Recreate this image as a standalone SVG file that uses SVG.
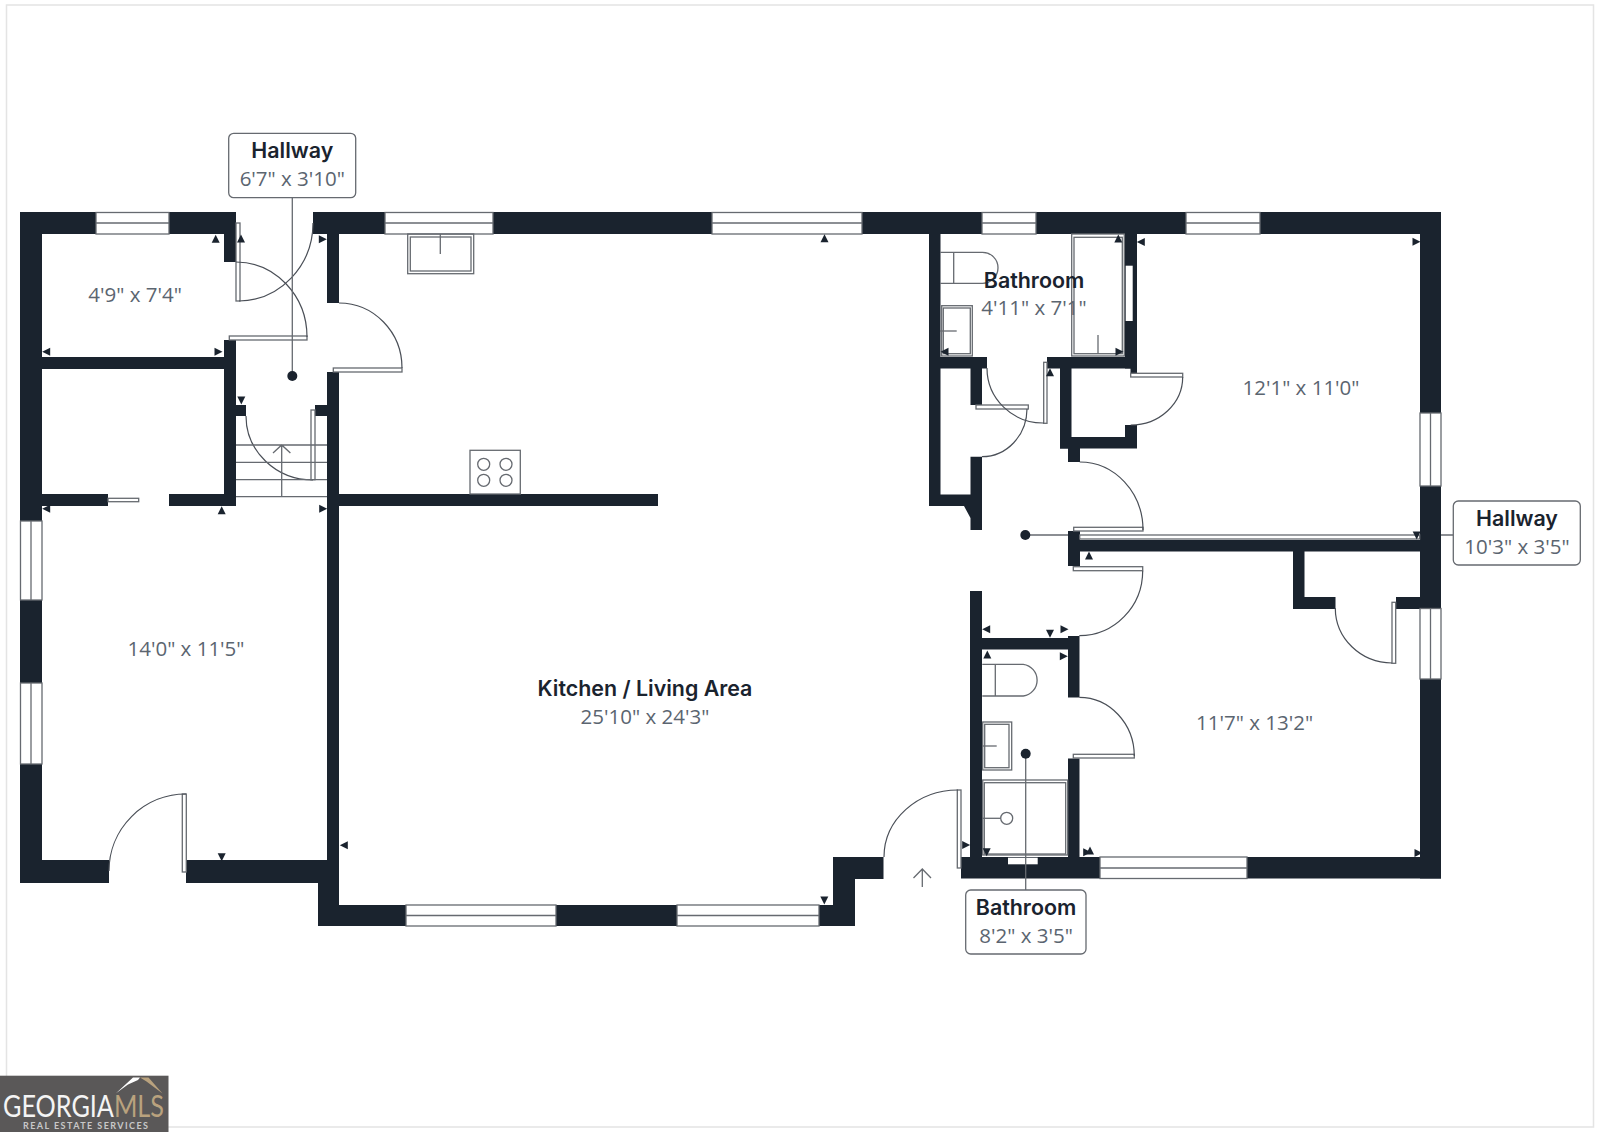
<svg xmlns="http://www.w3.org/2000/svg" width="1600" height="1132" viewBox="0 0 1600 1132">
<style>
.w{fill:#1a232e}
.l{fill:none;stroke:#666a70;stroke-width:1.3}
.f{fill:#fff;stroke:#666a70;stroke-width:1.3}
.a{fill:none;stroke:#4a4f57;stroke-width:1.2}
.c{fill:#fff;stroke:#666a70;stroke-width:1.3}
.t{font-family:"Inter","Liberation Sans",sans-serif;font-weight:600;font-size:21.4px;fill:#1a232e;text-anchor:middle}
.d{font-family:"Open Sans","Liberation Sans",sans-serif;font-size:20.5px;fill:#5b6570;text-anchor:middle}
.m{fill:#1a232e}
.dot{fill:#1a232e}
</style>
<defs>
<path id="mu" class="m" d="M0-4.500L4 3.500H-4Z"/>
<path id="md" class="m" d="M0 4.500L4-3.500H-4Z"/>
<path id="ml" class="m" d="M-4.500 0L3.500-4V4Z"/>
<path id="mr" class="m" d="M4.500 0L-3.500-4V4Z"/>
</defs>
<rect width="1600" height="1132" fill="#fff"/>
<g id="page-frame" fill="none" stroke="#e4e4e4" stroke-width="1.500">
<path d="M6.500 1076V5H1593.500V1127H168"/>
</g>
<g id="walls" class="w">
<rect x="20" y="212" width="76" height="22"/><rect x="169" y="212" width="67" height="22"/>
<rect x="313" y="212" width="72" height="22"/><rect x="493" y="212" width="219" height="22"/>
<rect x="862" y="212" width="120" height="22"/><rect x="1036" y="212" width="150" height="22"/>
<rect x="1260" y="212" width="181" height="22"/>
<rect x="20" y="212" width="22" height="309"/><rect x="20" y="600" width="22" height="83"/>
<rect x="20" y="764" width="22" height="119"/><rect x="20" y="860" width="89" height="23"/>
<rect x="186" y="860" width="153" height="23"/>
<rect x="224" y="234" width="12" height="28"/><rect x="224" y="340" width="12" height="166"/>
<rect x="42" y="357" width="182" height="12"/><rect x="42" y="494" width="66" height="12"/>
<rect x="169" y="494" width="67" height="12"/>
<rect x="236" y="405" width="10" height="11"/><rect x="315" y="405" width="12" height="11"/>
<rect x="327" y="234" width="12" height="69"/><rect x="327" y="372" width="12" height="510"/>
<rect x="339" y="494" width="319" height="12"/>
<rect x="318" y="860" width="21" height="66"/><rect x="318" y="905" width="88" height="21"/>
<rect x="556" y="905" width="121" height="21"/><rect x="819" y="905" width="36" height="21"/>
<rect x="833" y="857" width="22" height="69"/><rect x="833" y="857" width="50.500" height="22"/>
<path d="M929 234H940.500V494.500H970.500V456.700H982V530H970.500V518L964 506H929Z"/>
<rect x="940" y="357" width="47" height="11.500"/><rect x="970.500" y="368" width="11.500" height="37"/>
<rect x="1047" y="357" width="90" height="11.500"/><rect x="1060" y="368" width="11.500" height="80.500"/>
<rect x="1060" y="437" width="77" height="11.500"/><rect x="1125" y="425" width="12" height="23"/>
<path d="M1125 234H1137V373H1130.500V368.500H1125Z"/>
<rect x="1068" y="448" width="12" height="14"/>
<rect x="1068" y="531" width="12" height="35"/><rect x="1080" y="540" width="340" height="11.500"/>
<rect x="1293" y="551" width="11.500" height="58"/><rect x="1293" y="597" width="42.500" height="12"/>
<rect x="1396" y="597" width="24" height="12"/>
<rect x="1420" y="212" width="21" height="201"/><rect x="1420" y="486" width="21" height="122"/>
<rect x="1420" y="679" width="21" height="199.500"/><rect x="1247" y="857" width="194" height="21.500"/>
<rect x="961" y="857" width="139" height="21.500"/>
<rect x="970" y="591" width="12" height="266"/><rect x="982" y="638" width="97" height="11.500"/>
<rect x="1068" y="636" width="11.500" height="61.500"/><rect x="1068" y="758.500" width="11.500" height="98.500"/>
</g>
<g id="windows">
<rect class="f" x="96" y="212.500" width="73" height="21.500"/><path class="l" d="M96 223H169"/>
<rect class="f" x="385" y="212.500" width="108" height="21.500"/><path class="l" d="M385 223H493"/>
<rect class="f" x="712" y="212.500" width="150" height="21.500"/><path class="l" d="M712 223H862"/>
<rect class="f" x="982" y="212.500" width="54" height="21.500"/><path class="l" d="M982 223H1036"/>
<rect class="f" x="1186" y="212.500" width="74" height="21.500"/><path class="l" d="M1186 223H1260"/>
<rect class="f" x="20.500" y="521" width="21.500" height="79"/><path class="l" d="M31 521V600"/>
<rect class="f" x="20.500" y="683" width="21.500" height="81"/><path class="l" d="M31 683V764"/>
<rect class="f" x="1420" y="413" width="21" height="73"/><path class="l" d="M1430.500 413V486"/>
<rect class="f" x="1420" y="608.500" width="21" height="70.500"/><path class="l" d="M1430.500 608.500V679"/>
<rect class="f" x="406" y="905" width="150" height="21"/><path class="l" d="M406 915.500H556"/>
<rect class="f" x="677" y="905" width="142" height="21"/><path class="l" d="M677 915.500H819"/>
<rect class="f" x="1100" y="857" width="147" height="21.500"/><path class="l" d="M1100 868H1247"/>
<rect x="1125.700" y="265.700" width="7" height="55.300" fill="#fff"/>
<rect x="1008" y="857.700" width="29.700" height="6.600" fill="#fff"/>
<rect class="f" x="108" y="498.300" width="30.700" height="3.400"/>
</g>
<g id="doors">
<rect class="c" x="236" y="223" width="4" height="78"/><path class="a" d="M239 301A75 78 0 0 0 313 223"/>
<rect class="c" x="229.300" y="336" width="77.700" height="4"/><path class="a" d="M236 262A71 75 0 0 1 307 337"/>
<rect class="c" x="333.300" y="368" width="68.700" height="4"/><path class="a" d="M339 303A63 65 0 0 1 402 368"/>
<rect class="c" x="311" y="410" width="4" height="69.700"/><path class="a" d="M246 416A67 64 0 0 0 313 480"/>
<rect class="c" x="182.300" y="794" width="4" height="78"/><path class="a" d="M109 871A77 77 0 0 1 186 794"/>
<rect class="c" x="957.300" y="790" width="3.700" height="78"/><path class="a" d="M884 857A74 67 0 0 1 958 790"/>
<rect class="c" x="976" y="405" width="52.300" height="4"/><path class="a" d="M982 456.700A45 48 0 0 0 1027 409"/>
<rect class="c" x="1043.700" y="362.300" width="3.300" height="61"/><path class="a" d="M987 368A56 55 0 0 0 1043.700 423"/>
<rect class="c" x="1130.700" y="373.300" width="52" height="3.700"/><path class="a" d="M1130.700 425A52 48 0 0 0 1182.700 377"/>
<rect class="c" x="1073.700" y="527.300" width="69.300" height="3.700"/><path class="a" d="M1079.700 462A63.300 68 0 0 1 1143 530"/>
<rect class="c" x="1073.300" y="566.700" width="69.400" height="4"/><path class="a" d="M1079.300 635.700A63.400 65 0 0 0 1142.700 570.700"/>
<rect class="c" x="1073.300" y="754.300" width="61" height="3.700"/><path class="a" d="M1079.300 697.300A55 59 0 0 1 1134.300 756"/>
<rect class="c" x="1392" y="602.300" width="3.700" height="61"/><path class="a" d="M1335.300 608A57 55 0 0 0 1392 663"/>
</g>
<g id="stairs" class="l">
<path d="M236 445H327M236 462.300H327M236 479.700H327M236 496.700H327M281.700 445V496.700M273 453L281.700 445L290.400 453"/>
</g>
<g id="fixtures">
<rect class="l" x="407.700" y="234" width="66" height="39.700"/><rect class="l" x="410.300" y="237" width="60.700" height="34"/><path class="l" d="M440.300 234V254"/>
<rect class="l" x="470" y="450.300" width="50.300" height="43.700"/>
<circle class="l" cx="483.700" cy="464.300" r="6"/><circle class="l" cx="506" cy="464.300" r="6"/><circle class="l" cx="483.700" cy="480.300" r="6"/><circle class="l" cx="506" cy="480.300" r="6"/>
<path class="l" d="M940.300 252.300H982.500A15.500 15.500 0 0 1 982.500 283.300H940.300M953.700 252.300V283.300"/>
<rect class="l" x="941.700" y="305.700" width="30.600" height="50.300"/><rect class="l" x="943.300" y="308" width="27" height="45.700"/><path class="l" d="M940 331H956.700"/>
<rect class="l" x="1071.700" y="234" width="52.600" height="122"/><rect class="l" x="1074" y="237.300" width="48.300" height="116.400"/><path class="l" d="M1098 335V353.700"/>
<path class="l" d="M982.300 664.300H1023.300A16 16 0 0 1 1023.300 696H982.300M995.300 664.300V696"/>
<rect class="l" x="982.700" y="722" width="29" height="48"/><rect class="l" x="984.700" y="724.300" width="24.300" height="43.400"/><path class="l" d="M982 746H996.700"/>
<rect class="l" x="982.700" y="780" width="85" height="75"/><rect class="l" x="984.300" y="782.700" width="81.400" height="71.300"/>
<circle class="l" cx="1006.700" cy="818.300" r="6"/><path class="l" d="M982 818.300H1000.700"/>
<path class="l" d="M922.300 887V869M913.500 878L922.300 869L931 878"/>
<rect class="f" x="1079.700" y="535" width="340" height="4"/>
</g>
<g id="dimension-marks">
<use href="#mu" x="215.700" y="239.300"/><use href="#mu" x="241" y="239"/><use href="#ml" x="46.700" y="351.700"/><use href="#mr" x="218" y="351.700"/>
<use href="#mr" x="322.300" y="239.300"/><use href="#md" x="241.300" y="400"/><use href="#ml" x="46.700" y="508.700"/><use href="#mu" x="221.700" y="510.700"/>
<use href="#mr" x="322.700" y="508.700"/><use href="#md" x="221.700" y="856.700"/><use href="#ml" x="344.300" y="845.300"/><use href="#mu" x="824.500" y="238.800"/>
<use href="#mu" x="1118.300" y="239"/><use href="#ml" x="1141.300" y="242"/><use href="#ml" x="945" y="351.700"/><use href="#mr" x="1119" y="351.700"/>
<use href="#mu" x="1050" y="372.700"/><use href="#mu" x="1089" y="556"/><use href="#mr" x="1416" y="241.800"/><use href="#md" x="1416.700" y="535"/>
<use href="#ml" x="986.700" y="629.300"/><use href="#md" x="1050" y="633.300"/><use href="#mr" x="1064" y="629.300"/><use href="#mu" x="987.300" y="655"/>
<use href="#mr" x="1063.300" y="656.300"/><use href="#mr" x="965.700" y="845"/><use href="#md" x="986.700" y="851.700"/><use href="#mr" x="1086.700" y="852.300"/><use href="#mu" x="1090" y="851"/>
<use href="#mr" x="1418" y="853"/><use href="#md" x="824.300" y="900"/>
</g>
<g id="label-hallway-a">
<path class="l" d="M292.300 197.700V376"/><circle class="dot" cx="292.300" cy="376" r="5"/>
<rect class="f" x="228.700" y="133.300" width="127" height="64.400" rx="5"/>
<text class="t" x="292.300" y="158">Hallway</text><text class="d" x="292.300" y="186">6'7" x 3'10"</text>
</g>
<g id="label-hallway-b">
<path class="l" d="M1025.300 535H1068M1441 535H1453.300"/><circle class="dot" cx="1025.300" cy="535" r="5"/>
<rect class="f" x="1453.300" y="501" width="127" height="64" rx="5"/>
<text class="t" x="1517" y="525.500">Hallway</text><text class="d" x="1517" y="553.500">10'3" x 3'5"</text>
</g>
<g id="label-bathroom-b">
<path class="l" d="M1025.700 753.700V890"/><circle class="dot" cx="1025.700" cy="753.700" r="5"/>
<rect class="f" x="965.700" y="890" width="120.300" height="64" rx="5"/>
<text class="t" x="1026" y="914.500">Bathroom</text><text class="d" x="1026" y="942.500">8'2" x 3'5"</text>
</g>
<g id="room-labels">
<text class="t" x="1034" y="287.500">Bathroom</text><text class="d" x="1034" y="315">4'11" x 7'1"</text>
<text class="t" x="645" y="696">Kitchen / Living Area</text><text class="d" x="645" y="723.500">25'10" x 24'3"</text>
<text class="d" x="135" y="301.700">4'9" x 7'4"</text>
<text class="d" x="186" y="655.700">14'0" x 11'5"</text>
<text class="d" x="1301" y="395">12'1" x 11'0"</text>
<text class="d" x="1254.600" y="729.600">11'7" x 13'2"</text>
</g>
<g id="logo">
<rect x="0" y="1075.700" width="168.500" height="56.300" fill="#5a5858"/>
<path d="M116 1093.300L133 1077.500H140L138 1080L128 1084.500Z" fill="#fff"/>
<path d="M140 1077.500H148.500L162.500 1093.500L146.500 1081.500Z" fill="#b9a27e"/>
<text x="3" y="1117" font-family="Lato,'Liberation Sans',sans-serif" font-weight="400" font-size="30" fill="#f4f4f4" textLength="161" lengthAdjust="spacingAndGlyphs">GEORGIA<tspan fill="#b9a27e">MLS</tspan></text>
<text x="23" y="1129" font-family="Lato,'Liberation Sans',sans-serif" font-weight="700" font-size="9" fill="#c8c8c8" textLength="125">REAL ESTATE SERVICES</text>
</g>
</svg>
